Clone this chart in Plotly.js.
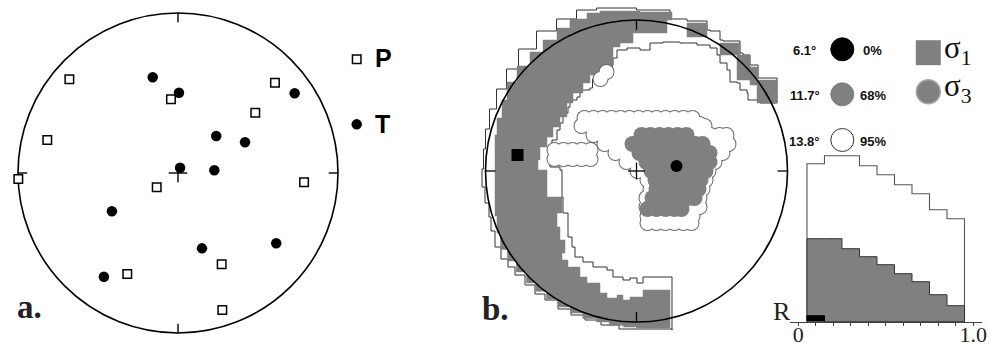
<!DOCTYPE html>
<html><head><meta charset="utf-8">
<script src="https://cdn.plot.ly/plotly-3.0.1.min.js"></script>
<style>html,body{margin:0;padding:0;background:#fff}#c{width:991px;height:345px}</style>
</head><body><div id="c"></div>
<script>
// ---------- Panel a: P and T axes (normalized stereonet coords, R = 1) ----------
const pX = [-0.679,-0.817,-0.998,-0.044,-0.133,0.606,0.483,0.788,0.273,-0.317,0.277];
const pY = [0.586,0.206,-0.038,0.461,-0.089,0.564,0.377,-0.058,-0.571,-0.631,-0.856];
const tX = [-0.158,0.006,0.729,0.239,0.419,0.013,0.227,-0.413,0.150,0.614,-0.463];
const tY = [0.598,0.502,0.498,0.231,0.192,0.033,0.017,-0.239,-0.471,-0.439,-0.648];

// ---------- Panel b: stress inversion confidence regions (projection units, R = 151) ----------
const netR = 151;
const sigma1Best = [-119, 16];
const sigma3Best = [40, 5];
// sigma1 68% region (polygons, u,v)
const s1_68_main = [[35.5,159],[3.5,160],[-36.5,158],[-49.5,152],[-66.5,143],[-79.5,131],[-93.5,119],[-106.5,105],[-119.5,89],[-129.5,71],[-134.5,53],[-139.5,36],[-141.5,21],[-141.5,1],[-141.5,-45],[-139.5,-62],[-136,-78.5],[-129,-90],[-120.3,-100.9],[-110,-112],[-100.9,-120.3],[-90,-128],[-78.5,-136],[-66,-142],[-53.7,-147.5],[-40,-151],[-27.3,-154.6],[-13,-156],[0,-157],[33.5,-156],
 [33.5,-119],[10.5,-119],[6.5,-126],[-6.5,-129],[-13.5,-124],[-19.5,-127],[-29.5,-122],[-36.5,-112],[-49.5,-106],[-56.5,-96],[-68.5,-89],[-74.5,-82],[-71.5,-69],[-76.5,-56],[-79.5,-42],[-74.5,-37],[-74.5,-26],[-88.5,-26],[-89.5,1],[-98.5,11],[-96.5,24],[-89.5,34],[-83.5,44],[-76.5,54],[-69.5,68],[-63.5,78],[-53.5,88],[-46.5,96],[-33.5,104],[-23.5,114],[-23.5,124],[-16.5,128],[-3.5,138],[30.5,138],[30.5,151],[35.5,153],[35.5,159]];
const s1_68_ne1 = [[50.5,148],[70.5,148],[70.5,134],[50.5,134],[50.5,148]];
const s1_68_ne2 = [[83.5,128],[103.5,128],[103.5,116],[83.5,116],[83.5,128]];
const s1_68_ne3 = [[100.5,116],[113.5,116],[113.5,104],[121.5,104],[121.5,91],[140.5,91],[140.5,68],[120.5,68],[120.5,86],[113.5,86],[113.5,91],[100.5,91],[100.5,116]];
// sigma1 95% region
const s1_95 = [[140.5,68],[140.5,93],[123.5,93],[121.5,106],[113.5,116],[106.5,118],[103.5,130],[86.5,131],[83.5,140],[73.5,141],[70.5,150],[50.5,152],[33.5,161],[0,163],[-40,161],[-60,152],[-80,140],[-100,122],[-118,102],[-130,82],[-140,62],[-147,42],[-151,22],[-153,2],[-154.5,-16],[-151.5,-32],[-147.5,-46],[-145.5,-60],[-141.5,-76],[-135.5,-88],[-128.5,-96],[-121.5,-104],[-111.5,-114],[-101.5,-123],[-91.5,-129],[-78.5,-138],[-65.5,-144],[-51.5,-149],[-35.5,-154],[-17.5,-158],[0.5,-158],[35.5,-159],
 [35.5,-106],[21.5,-106],[6.5,-112],[0.5,-107],[-6.5,-109],[-13.5,-106],[-23.5,-99],[-29.5,-96],[-43.5,-91],[-53.5,-86],[-61.5,-76],[-64.5,-66],[-68.5,-42],[-73.5,-26],[-74.5,1],[-76.5,4],[-86.5,24],[-84.5,31],[-79.5,41],[-76.5,48],[-73.5,58],[-68.5,64],[-66.5,71],[-59.5,74],[-56.5,81],[-46.5,83],[-44,92],[-36,100],[-28,106],[-23.5,113],[-19.5,121],[-9.5,123],[3.5,121],[13.5,128],[26.5,129],[43.5,128],[60.5,126],[73.5,123],[80.5,116],[83.5,108],[90.5,101],[93.5,89],[100.5,88],[103.5,81],[110.5,78],[111.5,71],[123.5,68],[140.5,68]];
// sigma3 95% sample circles: rows [v, [u...]]
const s3_95_rows = [
 [53,[-52,-43,-34,-25,-16,-7,2,11,20,29,38,47,56]],
 [47,[63]],
 [45,[-55,-46,-37,-28,-19,-10,-1,7,16,25,34,43,52,61,68]],
 [36,[-43,-34,-25,-16,-7,2,11,20,29,38,47,56,65,74,83,90]],
 [27,[-32,-23,-14,-5,4,13,22,31,40,49,58,67,76,85,92]],
 [18,[-21,-12,-3,6,15,24,33,42,51,60,69,78,86]],
 [9,[-10,-1,8,17,26,35,44,53,62,70,78]],
 [0,[1,10,19,28,37,46,55,64,72]],
 [-9,[11,20,29,38,47,56,64,69]],
 [-18,[14,23,32,41,50,59,66]],
 [-27,[10,19,28,37,46,55,63]],
 [-36,[10,19,28,37,46,55,63]],
 [-45,[11,20,29,38,47,56]],
 [-52,[11,20,29,38,47,55]],
 [21,[-82,-73,-64,-55,-46]],
 [12,[-82,-73,-64,-55,-46]],
 [92,[-36]],
 [99,[-30]]
];
// sigma3 68% sample circles
const s3_68_rows = [
 [36,[5,14,23,32,41,50]],
 [27,[-4,5,14,23,32,41,50,59,66]],
 [18,[3,12,21,30,39,48,57,66,73]],
 [9,[10,19,28,37,46,55,64,73]],
 [0,[15,24,33,42,51,60,69]],
 [-9,[19,28,37,46,55,64]],
 [-18,[20,29,38,47,56,62]],
 [-27,[16,25,34,43,52,58]],
 [-38,[11,20,29,38,45]]
];

// ---------- Histogram of R ----------
const rBins = [0.1,0.2,0.3,0.4,0.5,0.6,0.7,0.8,0.9];
const binW = 0.1;
const h95 = [158,166,166,156,147,137,128,112,103];
const h68 = [83,83,73,65,57,48,40,27,16];
const h0  = [6,0,0,0,0,0,0,0,0];
const rTicks = [0,1.0];
const rTickText = ['0','1.0'];

// ---------- helpers ----------
function polys(list){const x=[],y=[];list.forEach((p,i)=>{if(i){x.push(null);y.push(null);}p.forEach(q=>{x.push(q[0]);y.push(q[1]);});});return {x,y};}
function rows(r){const x=[],y=[];r.forEach(([v,us])=>us.forEach(u=>{x.push(u);y.push(v);}));return {x,y};}
function steps(h){const x=[rBins[0]-binW/2],y=[0];h.forEach((v,i)=>{x.push(rBins[i]-binW/2);y.push(v);});const L=rBins[rBins.length-1]+binW/2;x.push(L);y.push(h[h.length-1]);x.push(L);y.push(0);return {x,y};}

const W=991,H=345;
const gray='#808080';
const traces=[];
// panel a
traces.push({x:pX,y:pY,xaxis:'x',yaxis:'y',mode:'markers',type:'scatter',marker:{symbol:'square',size:8.5,color:'#fff',line:{color:'#000',width:1.5}},hoverinfo:'skip'});
traces.push({x:tX,y:tY,xaxis:'x',yaxis:'y',mode:'markers',type:'scatter',marker:{symbol:'circle',size:10.5,color:'#000'},hoverinfo:'skip'});
traces.push({x:[1.117],y:[0.711],xaxis:'x',yaxis:'y',mode:'markers',type:'scatter',marker:{symbol:'square',size:8.5,color:'#fff',line:{color:'#000',width:1.5}},hoverinfo:'skip'});
traces.push({x:[1.117],y:[0.304],xaxis:'x',yaxis:'y',mode:'markers',type:'scatter',marker:{symbol:'circle',size:10.5,color:'#000'},hoverinfo:'skip'});
// panel b
const p95=polys([s1_95]);
traces.push({x:p95.x,y:p95.y,xaxis:'x2',yaxis:'y2',mode:'lines',type:'scatter',fill:'toself',fillcolor:'#fff',line:{color:'#333',width:1,shape:'hv'},hoverinfo:'skip'});
const p68=polys([s1_68_main,s1_68_ne1,s1_68_ne2,s1_68_ne3]);
traces.push({x:p68.x,y:p68.y,xaxis:'x2',yaxis:'y2',mode:'lines',type:'scatter',fill:'toself',fillcolor:gray,line:{color:gray,width:0.5,shape:'hv'},hoverinfo:'skip'});
const c95=rows(s3_95_rows);
traces.push({x:c95.x,y:c95.y,xaxis:'x2',yaxis:'y2',mode:'markers',type:'scatter',marker:{size:16,color:'#6a6a6a'},hoverinfo:'skip'});
traces.push({x:c95.x,y:c95.y,xaxis:'x2',yaxis:'y2',mode:'markers',type:'scatter',marker:{size:14,color:'#fff'},hoverinfo:'skip'});
const c68=rows(s3_68_rows);
traces.push({x:c68.x,y:c68.y,xaxis:'x2',yaxis:'y2',mode:'markers',type:'scatter',marker:{size:16,color:gray},hoverinfo:'skip'});
traces.push({x:[sigma1Best[0]],y:[sigma1Best[1]],xaxis:'x2',yaxis:'y2',mode:'markers',type:'scatter',marker:{symbol:'square',size:12,color:'#000'},hoverinfo:'skip'});
traces.push({x:[sigma3Best[0]],y:[sigma3Best[1]],xaxis:'x2',yaxis:'y2',mode:'markers',type:'scatter',marker:{symbol:'circle',size:12,color:'#000'},hoverinfo:'skip'});
// legend keys
traces.push({x:[205.8,205.8,205.8],y:[121.7,76.7,31],xaxis:'x2',yaxis:'y2',mode:'markers',type:'scatter',marker:{symbol:'circle',size:23,color:['#000',gray,'#fff'],line:{color:['#000',gray,'#333'],width:1}},hoverinfo:'skip',cliponaxis:false});
traces.push({x:[291.8],y:[118.3],xaxis:'x2',yaxis:'y2',mode:'markers',type:'scatter',marker:{symbol:'square',size:25,color:gray},hoverinfo:'skip',cliponaxis:false});
traces.push({x:[291.8],y:[79.3],xaxis:'x2',yaxis:'y2',mode:'markers',type:'scatter',marker:{symbol:'circle',size:24,color:gray,line:{color:'#a8a8a8',width:1.5}},hoverinfo:'skip',cliponaxis:false});
// histogram
const s95=steps(h95), s68=steps(h68), s0=steps(h0);
traces.push({x:s95.x,y:s95.y,xaxis:'x3',yaxis:'y3',mode:'lines',type:'scatter',fill:'toself',fillcolor:'#fff',line:{color:'#555',width:1.1,shape:'hv'},hoverinfo:'skip'});
traces.push({x:s68.x,y:s68.y,xaxis:'x3',yaxis:'y3',mode:'lines',type:'scatter',fill:'toself',fillcolor:gray,line:{color:'#333',width:1,shape:'hv'},hoverinfo:'skip'});
traces.push({x:s0.x,y:s0.y,xaxis:'x3',yaxis:'y3',mode:'lines',type:'scatter',fill:'toself',fillcolor:'#000',line:{color:'#000',width:1,shape:'hv'},hoverinfo:'skip'});

// shapes
const shapes=[];
const tk=0.058;
shapes.push({type:'circle',xref:'x',yref:'y',x0:-1,x1:1,y0:-1,y1:1,line:{color:'#000',width:1.6},layer:'below'});
[[0,1,0,1-tk],[0,-1,0,-1+tk],[1,0,1-tk,0],[-1,0,-1+tk,0],[-tk,0,tk,0],[0,-tk,0,tk]].forEach(s=>shapes.push({type:'line',xref:'x',yref:'y',x0:s[0],y0:s[1],x1:s[2],y1:s[3],line:{color:'#000',width:1.4},layer:'below'}));
const tb=10, cb=8.5;
shapes.push({type:'circle',xref:'x2',yref:'y2',x0:-netR,x1:netR,y0:-netR,y1:netR,line:{color:'#000',width:1.6},layer:'above'});
[[0,netR,0,netR-tb],[0,-netR,0,-netR+tb],[netR,0,netR-tb,0],[-netR,0,-netR+tb,0],[-cb,0,cb,0],[0,-cb,0,cb]].forEach(s=>shapes.push({type:'line',xref:'x2',yref:'y2',x0:s[0],y0:s[1],x1:s[2],y1:s[3],line:{color:'#000',width:1.3},layer:'above'}));

const sansB={family:'Liberation Sans, Arial, sans-serif',size:13,color:'#111'};
const ann=[];
function A(o){ann.push(Object.assign({showarrow:false,yanchor:'middle'},o));}
A({xref:'x',yref:'y',x:1.22,y:0.719,text:'<b>P</b>',xanchor:'left',font:{family:'Liberation Sans, Arial, sans-serif',size:25,color:'#000'}});
A({xref:'x',yref:'y',x:1.22,y:0.306,text:'<b>T</b>',xanchor:'left',font:{family:'Liberation Sans, Arial, sans-serif',size:25,color:'#000'}});
A({xref:'paper',yref:'paper',x:15/W,y:1-307/H,text:'<b>a.</b>',xanchor:'left',font:{family:'Liberation Serif, Times New Roman, serif',size:33,color:'#222'}});
A({xref:'paper',yref:'paper',x:480/W,y:1-309/H,text:'<b>b.</b>',xanchor:'left',font:{family:'Liberation Serif, Times New Roman, serif',size:33,color:'#222'}});
A({xref:'x2',yref:'y2',x:181,y:121,text:'<b>6.1°</b>',xanchor:'right',font:sansB});
A({xref:'x2',yref:'y2',x:185.5,y:76,text:'<b>11.7°</b>',xanchor:'right',font:sansB});
A({xref:'x2',yref:'y2',x:185.5,y:30,text:'<b>13.8°</b>',xanchor:'right',font:sansB});
A({xref:'x2',yref:'y2',x:224,y:121,text:'<b>0%</b>',xanchor:'left',font:sansB});
A({xref:'x2',yref:'y2',x:221.5,y:76,text:'<b>68%</b>',xanchor:'left',font:sansB});
A({xref:'x2',yref:'y2',x:221.5,y:30,text:'<b>95%</b>',xanchor:'left',font:sansB});
A({xref:'x2',yref:'y2',x:305,y:121,text:'σ<sub>1</sub>',xanchor:'left',font:{family:'Liberation Serif, serif',size:31,color:'#111'}});
A({xref:'x2',yref:'y2',x:305,y:83,text:'σ<sub>3</sub>',xanchor:'left',font:{family:'Liberation Serif, serif',size:31,color:'#111'}});
A({xref:'paper',yref:'paper',x:771/W,y:1-311/H,text:'R',xanchor:'left',font:{family:'Liberation Serif, Times New Roman, serif',size:26,color:'#222'}});

const hide={visible:false,fixedrange:true,showgrid:false,zeroline:false};
const layout={
 width:W,height:H,autosize:false,margin:{l:0,r:0,t:0,b:0},paper_bgcolor:'#fff',plot_bgcolor:'rgba(0,0,0,0)',showlegend:false,
 xaxis:Object.assign({domain:[0,480/W],range:[-178/160,(480-178)/160],anchor:'y'},hide),
 yaxis:Object.assign({domain:[0,1],range:[(173-345)/160,173/160],anchor:'x'},hide),
 xaxis2:Object.assign({domain:[480/W,1],range:[480-636.5,W-636.5],anchor:'y2'},hide),
 yaxis2:Object.assign({domain:[0,1],range:[171-345,171],anchor:'x2'},hide),
 xaxis3:{domain:[790/W,982/W],range:[-0.047,1.05],anchor:'y3',showgrid:false,zeroline:false,showline:true,linecolor:'#444',linewidth:1.2,ticks:'outside',ticklen:3,tickwidth:1,tickcolor:'#444',tickmode:'array',tickvals:rTicks,ticktext:rTickText,ticklabelstandoff:-10,
   minor:{tickmode:'linear',tick0:0,dtick:0.1,ticks:'outside',ticklen:3,tickwidth:1,tickcolor:'#444',showgrid:false},
   tickfont:{family:'Liberation Serif, Times New Roman, serif',size:22,color:'#222'},fixedrange:true},
 yaxis3:Object.assign({domain:[(H-321.7)/H,(H-150)/H],range:[0,171.7],anchor:'x3'},hide),
 shapes:shapes,annotations:ann
};
Plotly.newPlot('c',traces,layout,{staticPlot:true,displayModeBar:false});
</script></body></html>
